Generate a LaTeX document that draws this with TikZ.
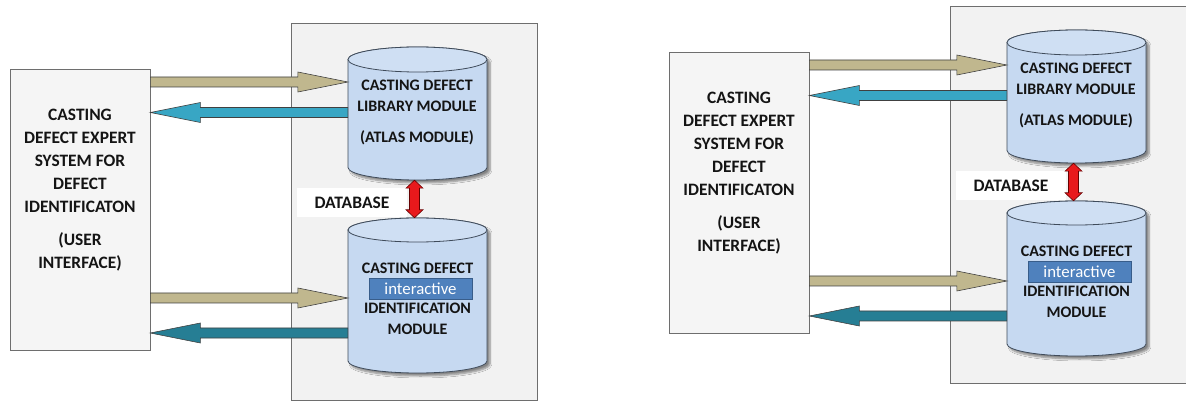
\documentclass[tikz,border=0pt]{standalone}
\usepackage{fontspec}
\setmainfont{Carlito}[BoldFont={Carlito Bold}]
\usetikzlibrary{calc,shadows.blur}

\definecolor{panelgray}{HTML}{F2F2F2}
\definecolor{boxgray}{HTML}{F5F5F5}
\definecolor{edgegray}{HTML}{6E6E6E}
\definecolor{tanfill}{HTML}{C0B78E}
\definecolor{skyfill}{HTML}{38A6C4}
\definecolor{tealfill}{HTML}{267E94}
\definecolor{cylfill}{HTML}{C6D9F1}
\definecolor{cyltopfill}{HTML}{CFDFF3}
\definecolor{cyledge}{HTML}{3F4B5A}
\definecolor{tagfill}{HTML}{4F81BD}
\definecolor{tagedge}{HTML}{385D8A}
\definecolor{redfill}{HTML}{E8191C}
\definecolor{inkdark}{HTML}{141414}

\tikzset{
  panel/.style={fill=panelgray, draw=edgegray, line width=0.8pt},
  uibox/.style={fill=boxgray, draw=edgegray, line width=0.8pt, inner sep=0pt},
  uitext/.style={align=center, text=inkdark, font=\bfseries\fontsize{17.4}{23}\selectfont},
  cyltext/.style={align=center, text=inkdark, font=\bfseries\fontsize{16}{21}\selectfont},
  cylbody/.style={fill=cylfill, draw=cyledge, line width=0.8pt,
    blur shadow={shadow xshift=3pt, shadow yshift=-3pt, shadow blur steps=6, shadow opacity=45}},
  cyltop/.style={fill=cyltopfill, draw=cyledge, line width=0.8pt},
  tag/.style={fill=tagfill, draw=tagedge, line width=0.8pt, text=white,
    font=\fontsize{16.8}{18}\selectfont, minimum width=103pt, minimum height=21pt, inner sep=0pt},
  dblabel/.style={fill=white, text=inkdark, font=\bfseries\fontsize{17.5}{19}\selectfont,
    minimum width=110pt, minimum height=29pt, inner sep=0pt},
  flowedge/.style={draw=black!75, line width=0.6pt, line join=miter},
  tanarrow/.style={flowedge, fill=tanfill},
  skyarrow/.style={flowedge, fill=skyfill},
  tealarrow/.style={flowedge, fill=tealfill},
  redarrow/.style={draw=red!40!black, line width=0.6pt, fill=redfill},
}

% block arrow from #1 to its tip #2: shaft 10pt, head 20pt wide and 50pt long
\newcommand\flowarrow[3]{%
  \filldraw[#3] let \p1=(#1), \p2=(#2), \p3=($(#2)!50pt!(#1)$) in
    (\x1,\y1+5pt) -- (\x3,\y1+5pt) -- (\x3,\y1+10pt) -- (\x2,\y2)
    -- (\x3,\y1-10pt) -- (\x3,\y1-5pt) -- (\x1,\y1-5pt) -- cycle;}

% vertical double-headed arrow between #1 (upper end) and #2 (lower end)
\newcommand\dblarrow[2]{%
  \filldraw[redarrow] let \p1=(#1), \p2=(#2) in
    (\x1,\y1) -- (\x1+8.5pt,\y1-8pt) -- (\x1+5pt,\y1-8pt) -- (\x1+5pt,\y2+8pt)
    -- (\x1+8.5pt,\y2+8pt) -- (\x1,\y2) -- (\x1-8.5pt,\y2+8pt) -- (\x1-5pt,\y2+8pt)
    -- (\x1-5pt,\y1-8pt) -- (\x1-8.5pt,\y1-8pt) -- cycle;}

% database cylinder: name, centre x, top-ellipse y, bottom-ellipse y, x radius, y radius
\newcommand\dbcylinder[6]{%
  \node[minimum width={2*#5*1pt}, minimum height={(#4-#3+2*#6)*1pt}, inner sep=0pt]
    (#1) at (#2,{(#3+#4)/2}) {};
  \filldraw[cylbody] ({#2-#5},#3) -- ({#2-#5},#4)
    arc[start angle=180, end angle=360, x radius=#5pt, y radius=#6pt]
    -- ({#2+#5},#3)
    arc[start angle=0, end angle=180, x radius=#5pt, y radius=#6pt] -- cycle;
  \filldraw[cyltop] (#2,#3) ellipse[x radius=#5pt, y radius=#6pt];}

% one complete system diagram; #1 prefixes the node names
\newcommand\systemdiagram[1]{%
  \draw[panel] (291,23) rectangle (537,400);
  \node[uibox, minimum width=140pt, minimum height=281pt] (#1ui) at (80,209.5) {};
  \node[uitext] (#1uitxt) at (80,190.5) {CASTING\\DEFECT EXPERT\\SYSTEM FOR\\DEFECT\\IDENTIFICATON\\[10pt](USER\\INTERFACE)};
  \dbcylinder{#1lib}{417.5}{59.5}{167.5}{69.5}{12.5}
  \dbcylinder{#1idm}{417.5}{230}{361}{69.5}{12}
  \node[cyltext] (#1libtxt) at (417,112) {CASTING DEFECT\\LIBRARY MODULE\\[10pt](ATLAS MODULE)};
  \node[cyltext] (#1idmhead) at (417.5,268.5) {CASTING DEFECT};
  \node[tag] (#1tag) at (420.5,288.5) {interactive};
  \node[cyltext] (#1idmtxt) at (417.5,319) {IDENTIFICATION\\MODULE};
  \node[dblabel] (#1db) at (352,202.5) {DATABASE};
  \dblarrow{$(#1lib.south)+(-3,0)$}{$(#1idm.north)+(-3,0)$}
  \flowarrow{#1ui.east |- 0,82}{#1lib.west |- 0,82}{tanarrow}
  \flowarrow{#1lib.west |- 0,112.5}{#1ui.east |- 0,112.5}{skyarrow}
  \flowarrow{#1ui.east |- 0,298}{#1idm.west |- 0,298}{tanarrow}
  \flowarrow{#1idm.west |- 0,333}{#1ui.east |- 0,333}{tealarrow}
}

\begin{document}
\begin{tikzpicture}[x=1pt, y=-1pt]
  \useasboundingbox (0,0) rectangle (1186,403);
  \fill[white] (0,0) rectangle (1186,403);
  \clip (0,0) rectangle (1186,403);
  \begin{scope}
    \systemdiagram{A}
  \end{scope}
  \begin{scope}[shift={(659,-17)}]
    \systemdiagram{B}
  \end{scope}
\end{tikzpicture}
\end{document}
